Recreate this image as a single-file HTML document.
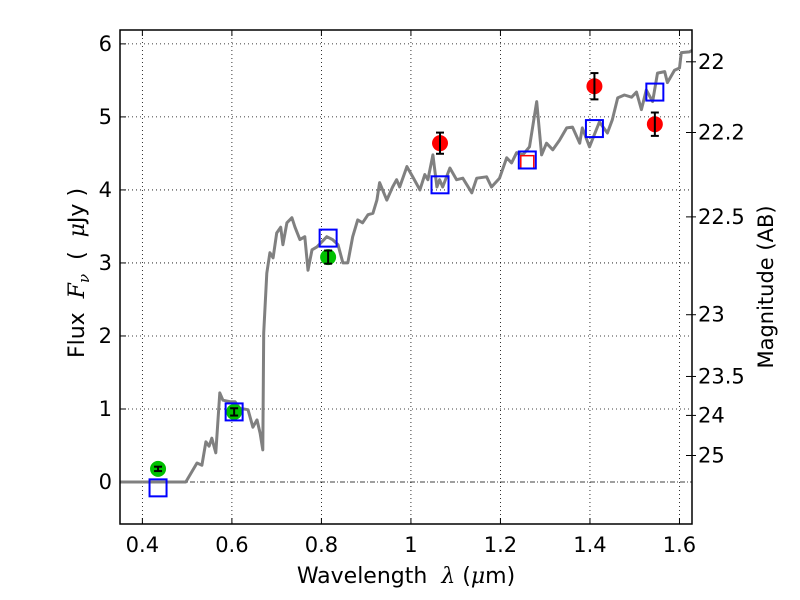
<!DOCTYPE html>
<html><head><meta charset="utf-8"><style>
html,body{margin:0;padding:0;background:#fff;}
svg{display:block;font-family:"DejaVu Sans","Liberation Sans",sans-serif;}
.pre{white-space:pre;}
</style></head><body>
<svg id="chart" width="800" height="600" viewBox="0 0 800 600" xmlns="http://www.w3.org/2000/svg"></svg>
<script>
const specWave=[0.350,0.497,0.522,0.533,0.542,0.549,0.555,0.564,0.573,0.580,0.596,0.607,0.618,0.636,0.647,0.656,0.663,0.669,0.671,0.678,0.685,0.692,0.700,0.709,0.714,0.723,0.734,0.741,0.752,0.763,0.770,0.779,0.790,0.801,0.812,0.825,0.837,0.848,0.859,0.870,0.881,0.892,0.904,0.915,0.924,0.930,0.946,0.959,0.968,0.975,0.991,1.004,1.020,1.031,1.038,1.049,1.058,1.064,1.071,1.087,1.102,1.116,1.136,1.147,1.169,1.180,1.198,1.214,1.225,1.236,1.250,1.265,1.281,1.292,1.303,1.317,1.332,1.348,1.361,1.377,1.383,1.399,1.421,1.439,1.450,1.462,1.477,1.493,1.504,1.515,1.526,1.540,1.551,1.567,1.573,1.589,1.600,1.604,1.622,1.628];
const specFlux=[0,0,0.26,0.23,0.55,0.49,0.60,0.40,1.22,1.12,1.10,1.10,1.01,0.99,0.75,0.85,0.67,0.44,2.04,2.86,3.14,3.07,3.41,3.49,3.25,3.55,3.62,3.49,3.32,3.36,2.90,3.18,3.22,3.29,3.36,3.32,3.25,3.00,3.00,3.36,3.59,3.55,3.66,3.68,3.86,4.10,3.86,4.04,4.14,4.04,4.32,4.18,4.00,4.21,4.14,4.48,4.04,4.14,4.04,4.30,4.14,4.16,3.96,4.16,4.18,4.04,4.16,4.44,4.37,4.51,4.48,4.59,5.21,4.48,4.64,4.55,4.68,4.85,4.86,4.64,4.85,4.59,4.93,4.78,4.96,5.26,5.30,5.27,5.34,5.10,5.37,5.21,5.60,5.62,5.47,5.64,5.67,5.88,5.89,5.91];
const greenWave=[0.435,0.605,0.815];
const greenFlux=[0.18,0.96,3.08];
const greenErr=[0.03,0.05,0.09];
const redWave=[1.065,1.41,1.545];
const redFlux=[4.64,5.42,4.90];
const redErr=[0.145,0.18,0.16];
const modelWave=[0.435,0.605,0.815,1.065,1.26,1.41,1.545];
const modelFlux=[-0.08,0.96,3.34,4.07,4.41,4.84,5.34];
const redBoxWave=[1.26];
const redBoxFlux=[4.38];
const xTicks=[0.4,0.6,0.8,1.0,1.2,1.4,1.6];
const xTickLabels=["0.4","0.6","0.8","1","1.2","1.4","1.6"];
const yTicks=[0,1,2,3,4,5,6];
const magTicks=[22,22.2,22.5,23,23.5,24,25];
const magLabels=["22","22.2","22.5","23","23.5","24","25"];

const L=120,R=692,T=30,B=524;
const XMIN=0.35,XMAX=1.628,YMIN=-0.575,YMAX=6.19;
const sx=v=>L+(v-XMIN)/(XMAX-XMIN)*(R-L);
const sy=v=>B-(v-YMIN)/(YMAX-YMIN)*(B-T);
const NS="http://www.w3.org/2000/svg";
const svg=document.getElementById('chart');
function mk(tag,attrs,parent){const e=document.createElementNS(NS,tag);for(const k in attrs)e.setAttribute(k,attrs[k]);(parent||svg).appendChild(e);return e;}

const clip=mk('clipPath',{id:'pc'});mk('rect',{x:L,y:T,width:R-L,height:B-T},clip);

xTicks.forEach((v,i)=>{
  const g=mk('line',{x1:sx(v),x2:sx(v),y1:T,y2:B,stroke:'#000','stroke-width':0.8,'stroke-dasharray':'1,3'});
  
  
  const t=mk('line',{x1:sx(v),x2:sx(v),y1:B,y2:B-6,stroke:'#000','stroke-width':1});
  
  
  mk('line',{x1:sx(v),x2:sx(v),y1:T,y2:T+6,stroke:'#000','stroke-width':1});
  const lb=mk('text',{x:sx(v),y:B+28,'text-anchor':'middle','font-size':21});
  lb.textContent=xTickLabels[i];
  
  
});
yTicks.forEach(v=>{
  if(v!==0){
    const g=mk('line',{x1:L,x2:R,y1:sy(v),y2:sy(v),stroke:'#000','stroke-width':0.8,'stroke-dasharray':'1,3'});
    
    
  }
  const t=mk('line',{x1:L,x2:L+6,y1:sy(v),y2:sy(v),stroke:'#000','stroke-width':1});
  
  
  const lb=mk('text',{x:L-8,y:sy(v)+7,'text-anchor':'end','font-size':21});
  lb.textContent=String(v);
  
  
});
const zl=mk('line',{x1:L,x2:R,y1:sy(0),y2:sy(0),stroke:'#000','stroke-width':0.8,'stroke-dasharray':'5,2,1,2'});



magTicks.forEach((m,i)=>{
  const f=Math.pow(10,(23.9-m)/2.5);
  const t=mk('line',{x1:R-6,x2:R+4,y1:sy(f),y2:sy(f),stroke:'#000','stroke-width':1});
  
  
  const lb=mk('text',{x:R+6,y:sy(f)+7,'font-size':21});
  lb.textContent=magLabels[i];
  
  
});

let d='';specWave.forEach((w,i)=>{d+=(i?'L':'M')+sx(w).toFixed(1)+','+sy(specFlux[i]).toFixed(1);});
const sp=mk('path',{d:d,fill:'none',stroke:'#808080','stroke-width':3,'stroke-linejoin':'round','clip-path':'url(#pc)'});



function errbar(x,y,e,name){
  const g=mk('g',{});
  
  
  mk('line',{x1:sx(x),x2:sx(x),y1:sy(y-e),y2:sy(y+e),stroke:'#000','stroke-width':2},g);
  mk('line',{x1:sx(x)-4,x2:sx(x)+4,y1:sy(y-e),y2:sy(y-e),stroke:'#000','stroke-width':2},g);
  mk('line',{x1:sx(x)-4,x2:sx(x)+4,y1:sy(y+e),y2:sy(y+e),stroke:'#000','stroke-width':2},g);
}
greenWave.forEach((w,i)=>{
  const c=mk('circle',{cx:sx(w),cy:sy(greenFlux[i]),r:8,fill:'#00c000'});
  
  
  errbar(w,greenFlux[i],greenErr[i],'green-error-bar');
});
redWave.forEach((w,i)=>{
  const c=mk('circle',{cx:sx(w),cy:sy(redFlux[i]),r:8,fill:'#ff0000'});
  
  
  errbar(w,redFlux[i],redErr[i],'red-error-bar');
});
redBoxWave.forEach((w,i)=>{
  const r=mk('rect',{x:sx(w)-6.5,y:sy(redBoxFlux[i])-6.5,width:13,height:13,fill:'none',stroke:'#ff0000','stroke-width':1.5});
  
  
});
modelWave.forEach((w,i)=>{
  const r=mk('rect',{x:sx(w)-8.5,y:sy(modelFlux[i])-8.5,width:17,height:17,fill:'none',stroke:'#0000ff','stroke-width':2});
  
  
});

const fr=mk('rect',{x:L,y:T,width:R-L,height:B-T,fill:'none',stroke:'#000','stroke-width':1.5});



const xt=mk('text',{x:406,y:583,'text-anchor':'middle','font-size':22,'class':'pre'});
xt.innerHTML='Wavelength  <tspan font-style="italic" font-family="DejaVu Serif, serif">λ</tspan> (<tspan font-style="italic" font-family="DejaVu Serif, serif">μ</tspan>m)';


const yt=mk('text',{x:0,y:0,'text-anchor':'middle','font-size':22,transform:'translate(84,273) rotate(-90)','class':'pre'});
yt.innerHTML='Flux  <tspan font-style="italic" font-family="DejaVu Serif, serif">F</tspan><tspan font-style="italic" font-family="DejaVu Serif, serif" font-size="15" dy="5">ν</tspan><tspan dy="-5">  (  </tspan><tspan font-style="italic" font-family="DejaVu Serif, serif">μ</tspan>Jy )';


const mt=mk('text',{x:0,y:0,'text-anchor':'middle','font-size':21,transform:'translate(773,287) rotate(-90)'});
mt.textContent='Magnitude (AB)';


</script>
</body></html>
